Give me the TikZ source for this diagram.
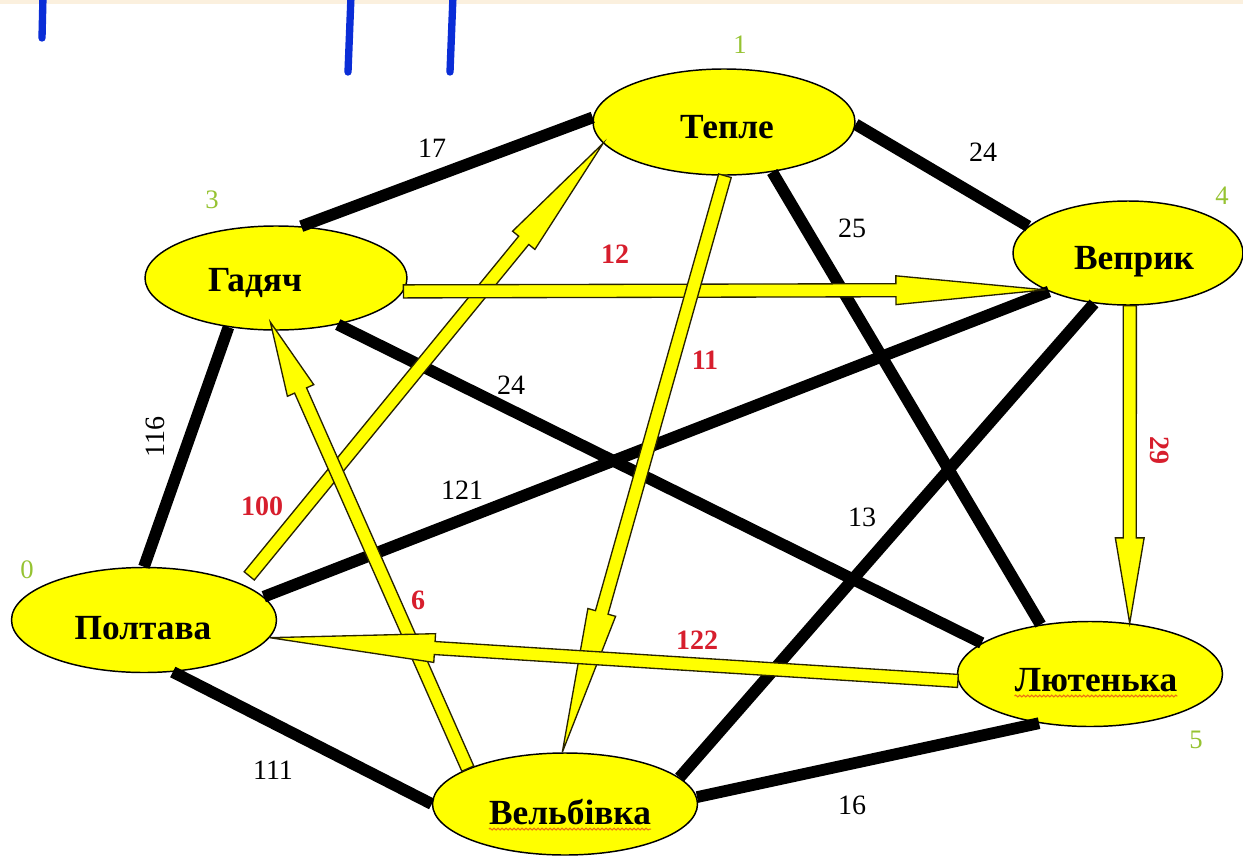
\documentclass[tikz,border=0pt]{standalone}
\usepackage{fontspec}
\setmainfont{Liberation Serif}
\usetikzlibrary{calc,shapes.geometric,decorations.pathmorphing}
\definecolor{nodeyellow}{RGB}{255,255,0}
\definecolor{numgreen}{RGB}{150,195,50}
\definecolor{wred}{RGB}{215,30,45}
\definecolor{penblue}{RGB}{10,45,215}
\definecolor{topstrip}{RGB}{251,240,222}
\definecolor{outlinedark}{RGB}{40,35,0}
\definecolor{spellred}{RGB}{235,110,20}
\newcommand{\blockarrow}[3]{%
  \coordinate (ba-s) at (#1);
  \coordinate (ba-t) at (#2);
  \coordinate (ba-h) at ($(ba-t)!#3!(ba-s)$);
  \draw[yarrow] ($(ba-s)!4.9pt!90:(ba-t)$) -- ($(ba-h)!4.9pt!90:(ba-t)$)
    -- ($(ba-h)!10.8pt!90:(ba-t)$) -- (ba-t) -- ($(ba-h)!10.8pt!-90:(ba-t)$)
    -- ($(ba-h)!4.9pt!-90:(ba-t)$) -- ($(ba-s)!4.9pt!-90:(ba-t)$) -- cycle;
}
\begin{document}
\begin{tikzpicture}[x=0.75pt,y=-0.75pt,
  town/.style={ellipse, draw=black, line width=1.1pt, fill=nodeyellow, inner sep=0pt},
  townname/.style={font=\bfseries\fontsize{26.5}{30}\selectfont, inner sep=0pt},
  roadedge/.style={line width=8.8pt, black},
  yarrow/.style={fill=nodeyellow, draw=outlinedark, line width=1pt, line join=miter},
  wlabel/.style={font=\fontsize{21}{24}\selectfont, inner sep=1pt},
  rlabel/.style={text=wred, font=\bfseries\fontsize{21}{24}\selectfont, inner sep=1pt},
  glabel/.style={text=numgreen, font=\fontsize{20}{24}\selectfont, inner sep=1pt},
  penstroke/.style={penblue, line width=5.5pt, line cap=round},
  spell/.style={spellred, line width=0.8pt, decorate, decoration={snake, amplitude=0.7pt, segment length=3pt}}]
\useasboundingbox (0,0) rectangle (1243,864);
\fill[white] (0,0) rectangle (1243,864);
\fill[topstrip] (0,0) rectangle (1243,4);
% pen strokes
\coordinate (p1a) at (43,-4); \coordinate (p1b) at (42,38);
\coordinate (p2a) at (351,-4); \coordinate (p2b) at (348,72);
\coordinate (p3a) at (453,-4); \coordinate (p3b) at (450,72);
\draw[penstroke] (p1a) -- (p1b);
\draw[penstroke] (p2a) -- (p2b);
\draw[penstroke] (p3a) -- (p3b);
% towns
\node[town, minimum width=196.5pt, minimum height=79.5pt] (tep) at (724,122) {};
\node[town, minimum width=196.5pt, minimum height=78pt] (gad) at (276,278) {};
\node[town, minimum width=172.5pt, minimum height=78pt] (vep) at (1128,253) {};
\node[town, minimum width=198.75pt, minimum height=78.75pt] (pol) at (144,620) {};
\node[town, minimum width=198.75pt, minimum height=78.75pt] (lyu) at (1090,674) {};
\node[town, minimum width=198.75pt, minimum height=76.5pt] (vel) at (565,804) {};
\node[townname] (tep-t) at (727,127) {Тепле};
\node[townname] (gad-t) at (255,283) {Гадяч};
\node[townname] (vep-t) at (1134,262) {Веприк};
\node[townname] (pol-t) at (143,628) {Полтава};
\node[townname] (lyu-t) at (1096,680) {Лютенька};
\node[townname] (vel-t) at (570,812) {Вельбівка};
\draw[spell] ($(lyu-t.south west)+(0,4)$) -- ($(lyu-t.south east)+(0,4)$);
\draw[spell] ($(vel-t.south west)+(0,4)$) -- ($(vel-t.south east)+(0,4)$);
% black roads
\draw[roadedge] (gad.64) -- (tep.178);
\draw[roadedge] (tep.-1) -- (vep.165);
\draw[roadedge] (tep.-46) -- (lyu.135.6);
\draw[roadedge] (gad.-37) -- (lyu.164.6);
\draw[roadedge] (gad.226.6) -- (pol.90);
\draw[roadedge] (pol.11.3) -- (vep.206.6);
\draw[roadedge] (vep.236.3) -- (vel.13.9);
\draw[roadedge] (pol.-61.3) -- (vel.180);
\draw[roadedge] (vel.3) -- (lyu.224);
% yellow arrows
\blockarrow{$(pol.20)!8pt!(tep.190)$}{tep.190}{94pt}
\blockarrow{gad.-6}{vep.204}{112pt}
\blockarrow{tep.-89}{vel.93}{109pt}
\blockarrow{vep.-88}{lyu.52}{64pt}
\blockarrow{vel.160}{$(gad.-92)!-7pt!(vel.160)$}{56pt}
\blockarrow{lyu.183}{pol.-8}{124pt}
% numbers
\node[glabel] (n1) at (740,45) {1};
\node[glabel] (n3) at (212,200) {3};
\node[glabel] (n4) at (1222,196) {4};
\node[glabel] (n0) at (27,570) {0};
\node[glabel] (n5) at (1196,740) {5};
% weights
\node[wlabel] (w17) at (432,148) {17};
\node[wlabel] (w24a) at (983,152) {24};
\node[wlabel] (w25) at (852,228) {25};
\node[wlabel] (w24b) at (511,385) {24};
\node[wlabel, rotate=90] (w116) at (155,437) {116};
\node[wlabel] (w121) at (462,490) {121};
\node[wlabel] (w13) at (862,517) {13};
\node[wlabel] (w111) at (273,770) {111};
\node[wlabel] (w16) at (852,805) {16};
\node[rlabel] (r12) at (615,254) {12};
\node[rlabel] (r11) at (705,360) {11};
\node[rlabel] (r100) at (262,506) {100};
\node[rlabel, rotate=-90] (r29) at (1160,450) {29};
\node[rlabel] (r122) at (697,640) {122};
\node[rlabel] (r6) at (418,600) {6};
\end{tikzpicture}
\end{document}
